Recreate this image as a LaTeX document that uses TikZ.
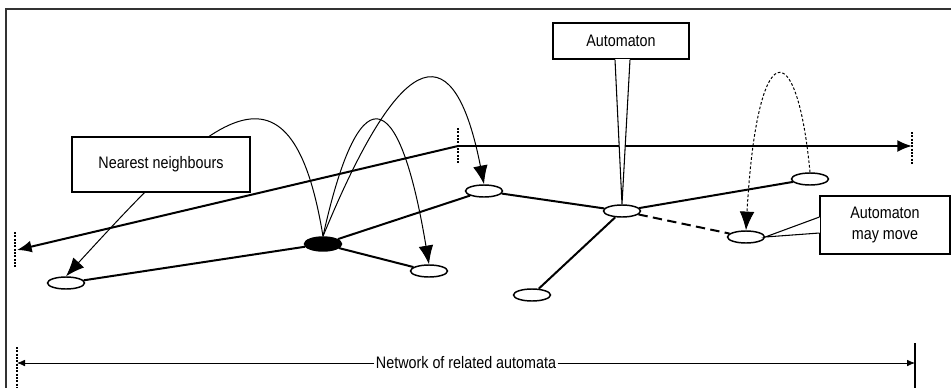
\documentclass[tikz,border=0pt]{standalone}
\usepackage{fontspec}
\setmainfont{Liberation Sans}[FakeStretch=0.86]
\usetikzlibrary{arrows.meta,shapes.geometric,calc}
\tikzset{
  cell/.style={ellipse, draw, line width=1.1pt, fill=white, minimum width=27.75pt, minimum height=9pt, inner sep=0pt},
  live/.style={cell, fill=black, minimum height=10.5pt},
  link/.style={line width=1.5pt},
  hop/.style={line width=0.75pt, -{Latex[length=14pt,width=11pt]}},
  axis/.style={line width=1.5pt, -{Latex[length=11pt,width=9pt]}},
  tick/.style={line width=0.8pt, dash pattern=on 1.5pt off 1pt},
  labelbox/.style={draw, fill=white, line width=0.8pt, align=center, font=\fontsize{12.5}{15.75}\selectfont},
}
\begin{document}
\begin{tikzpicture}[x=0.75pt,y=0.75pt,yscale=-1,xscale=1]
        \useasboundingbox (0,0) rectangle (951,387);
        % Frame
        \draw [line width=1.2pt, color=black!80] (6,392) -- (6,9) -- (956,9) ;
        % Axes
        \coordinate (O) at (458,146);
        \coordinate (L) at (17,250);
        \coordinate (R) at (912,146);
        \draw [axis] (O) -- (L) ;
        \draw [axis] (O) -- (R) ;
        \draw [tick] (O) ++(0,-18) -- ++(0,35) ;
        \draw [tick] (15,232) -- (15,268) ;
        \draw [tick] (R) ++(0,-14) -- ++(0,33) ;
        % Cells
        \draw (66,283) node [cell] (n1) {};
        \draw (323,244) node [live] (hub) {};
        \draw (429,271) node [cell] (n3) {};
        \draw (484,191) node [cell] (n4) {};
        \draw (622,211) node [cell] (am) {};
        \draw (810,179) node [cell] (n6) {};
        \draw (746,237) node [cell] (n7) {};
        \draw (532,295) node [cell] (n8) {};
        % Links
        \draw [link] (n1) -- (hub) ;
        \draw [link] (hub) -- (n3) ;
        \draw [link] (hub) -- (n4) ;
        \draw [link] (n4) -- (am) ;
        \draw [link] (am) -- (n6) ;
        \draw [link] (am) -- (n8) ;
        \draw [link, dash pattern=on 7pt off 4pt] (am) -- (n7) ;
        % Neighbour hops
        \draw [hop] (hub.north) .. controls (290,35) and (205,125) .. (n1.north) ;
        \draw [hop] (hub.north) .. controls (358,78) and (398,78) .. (n3.north) ;
        \draw [hop] (hub.north) .. controls (405,37) and (455,37) .. (n4.north) ;
        \draw [hop, dash pattern=on 2pt off 1.5pt] (n6.north) .. controls (797,33) and (757,33) .. (n7.north) ;
        % Text Node
        \draw (161,164.5) node [labelbox, minimum width=133.5pt, minimum height=41.25pt] (nn) {Nearest neighbours};
        % Text Node
        \draw (621,41) node [labelbox, minimum width=102pt, minimum height=27pt] (abox) {Automaton};
        % Text Node
        \draw (885,225) node [labelbox, minimum width=97.5pt, minimum height=43.5pt] (mbox) {Automaton\\may move};
        % Callouts
        \coordinate (a1) at ($(abox.south)+(-6,0)$);
        \coordinate (a2) at ($(abox.south)+(9,0)$);
        \fill [white] (a1) -- (am.north) -- (a2) -- cycle ;
        \draw [white, line width=1.2pt] (a1) -- (a2) ;
        \draw [line width=0.8pt] (a1) -- (am.north) -- (a2) ;
        \coordinate (m1) at ($(mbox.west)+(0,-8)$);
        \coordinate (m2) at ($(mbox.west)+(0,8)$);
        \fill [white] (m1) -- (n7.east) -- (m2) -- cycle ;
        \draw [white, line width=1.2pt] (m1) -- (m2) ;
        \draw [line width=0.8pt] (m1) -- (n7.east) -- (m2) ;
        % Dimension line
        \draw (466,363) node [inner sep=1pt, font=\fontsize{12.5}{14}\selectfont] (net) {Network of related automata};
        \coordinate (dl) at (17,363);
        \coordinate (dr) at (915,363);
        \draw [line width=0.6pt, -{Latex[length=6pt,width=5pt]}] (net) -- (dl) ;
        \draw [line width=0.6pt, -{Latex[length=6pt,width=5pt]}] (net) -- (dr) ;
        \draw [tick] (17,347) -- (17,392) ;
        \draw [line width=0.8pt] (915,343) -- (915,392) ;
    \end{tikzpicture}
\end{document}
